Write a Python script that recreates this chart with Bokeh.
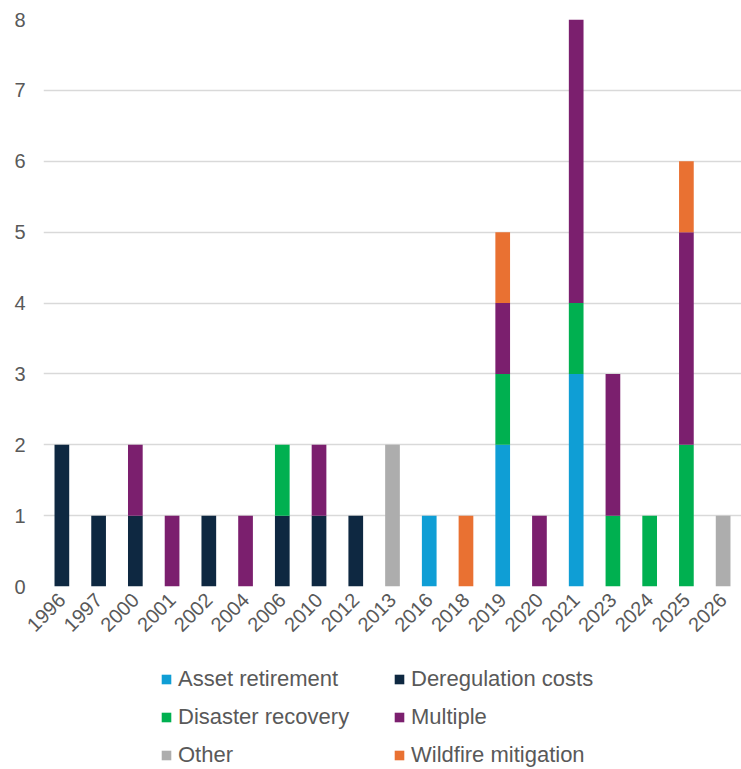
from bokeh.plotting import figure
from bokeh.models import Legend, LegendItem, FactorRange, Range1d, FixedTicker
from bokeh.layouts import column
from bokeh.embed import file_html
from bokeh.resources import INLINE
import math

years = ["1996", "1997", "2000", "2001", "2002", "2004", "2006", "2010", "2012", "2013",
         "2016", "2018", "2019", "2020", "2021", "2023", "2024", "2025", "2026"]
asset_retirement   = [0, 0, 0, 0, 0, 0, 0, 0, 0, 0, 1, 0, 2, 0, 3, 0, 0, 0, 0]
deregulation_costs = [2, 1, 1, 0, 1, 0, 1, 1, 1, 0, 0, 0, 0, 0, 0, 0, 0, 0, 0]
disaster_recovery  = [0, 0, 0, 0, 0, 0, 1, 0, 0, 0, 0, 0, 1, 0, 1, 1, 1, 2, 0]
multiple           = [0, 0, 1, 1, 0, 1, 0, 1, 0, 0, 0, 0, 1, 1, 4, 2, 0, 3, 0]
other              = [0, 0, 0, 0, 0, 0, 0, 0, 0, 2, 0, 0, 0, 0, 0, 0, 0, 0, 1]
wildfire_mitigation = [0, 0, 0, 0, 0, 0, 0, 0, 0, 0, 0, 1, 1, 0, 0, 0, 0, 1, 0]

series_names = ["Asset retirement", "Deregulation costs", "Disaster recovery",
                "Multiple", "Other", "Wildfire mitigation"]
series_values = [asset_retirement, deregulation_costs, disaster_recovery,
                 multiple, other, wildfire_mitigation]
colors = ["#0F9ED5", "#0E2841", "#00B050", "#7B1F6E", "#ADADAD", "#E97132"]

keys = ["s%d" % i for i in range(len(series_names))]
data = {"year": years}
for k, v in zip(keys, series_values):
    data[k] = v

# ---- main chart ----
p = figure(width=741, height=666, output_backend="svg", toolbar_location=None,
           x_range=FactorRange(factors=years, range_padding=0),
           y_range=Range1d(0, 8))
p.min_border_left = 43
p.min_border_right = 0
p.min_border_top = 19
p.min_border_bottom = 80
p.outline_line_color = None

p.vbar_stack(keys, x="year", width=0.4, source=data, color=colors, line_color=None)

p.xgrid.grid_line_color = None
p.ygrid.grid_line_color = "#D9D9D9"
p.ygrid.grid_line_width = 1.5
p.yaxis.ticker = FixedTicker(ticks=list(range(0, 9)))
p.yaxis.axis_line_color = None
p.yaxis.major_tick_line_color = None
p.yaxis.minor_tick_line_color = None
p.yaxis.major_label_text_font = "Liberation Sans"
p.yaxis.major_label_text_font_size = "20px"
p.yaxis.major_label_text_color = "#595959"
p.yaxis.major_label_standoff = 12

p.xaxis.axis_line_color = None
p.xaxis.major_tick_line_color = None
p.xaxis.major_label_orientation = math.pi / 4
p.xaxis.major_label_text_font = "Liberation Sans"
p.xaxis.major_label_text_font_size = "20px"
p.xaxis.major_label_text_color = "#595959"
p.xaxis.major_label_standoff = 4

# ---- legend strip: same series as zero-width bars out of view, only the legend shows ----
pl = figure(width=741, height=103, output_backend="svg", toolbar_location=None,
            x_range=FactorRange(factors=years, range_padding=0),
            y_range=Range1d(-20, -19))
pl.min_border = 0
pl.outline_line_color = None
pl.axis.visible = False
pl.grid.visible = False
lrs = pl.vbar_stack(keys, x="year", width=0, source=data, color=colors, line_color=None)
items = [LegendItem(label=n, renderers=[r]) for n, r in zip(series_names, lrs)]
legend = Legend(items=items, orientation="horizontal", ncols=2, location=(117, 0),
                label_text_font="Liberation Sans", label_text_font_size="22px",
                label_text_color="#595959", glyph_width=12, glyph_height=12,
                label_standoff=6, label_width=205, label_height=28, spacing=10,
                padding=0, margin=0, border_line_color=None,
                background_fill_alpha=0)
pl.add_layout(legend, "center")

layout = column(p, pl, spacing=0)
open("out.html", "w").write(file_html(layout, INLINE))
